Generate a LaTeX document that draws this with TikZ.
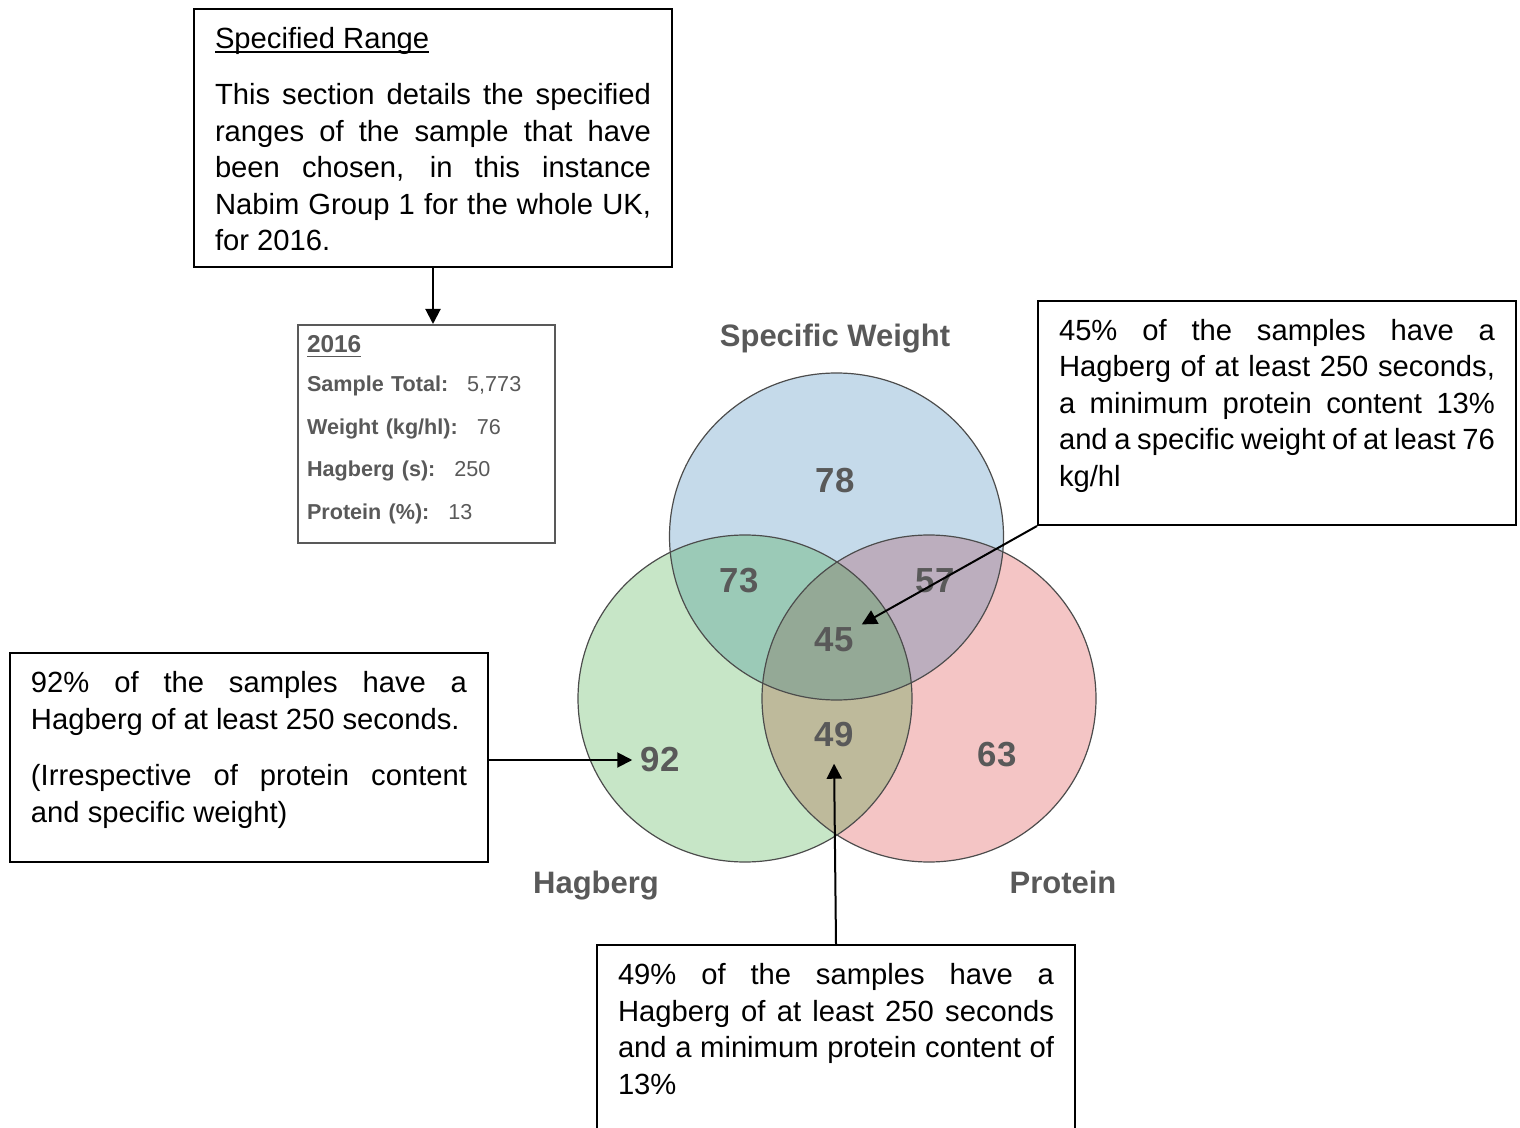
\documentclass[tikz,border=0pt]{standalone}
\usepackage{fontspec}
\setmainfont{Liberation Sans}
\usetikzlibrary{calc}
\usetikzlibrary{arrows.meta}

\definecolor{vennblue}{RGB}{23,107,171}
\definecolor{venngreen}{RGB}{31,155,31}
\definecolor{vennred}{RGB}{211,23,23}
\definecolor{venntext}{RGB}{89,89,89}

\newcommand{\ulword}[1]{\leavevmode\setbox0\hbox{#1}\rlap{\rule[-2.2pt]{\wd0}{0.8pt}}\box0}
\tolerance=9999
\hyphenpenalty=10000
\hbadness=10000

\begin{document}
\begin{tikzpicture}[x=0.5pt, y=-0.5pt,
  note/.style={draw, line width=1pt, anchor=north west, inner xsep=10.5pt, inner ysep=0pt, text width=218pt, align=justify, text height=19.75pt, font=\fontsize{14.6}{18.25}\selectfont},
  num/.style={text=venntext, font=\bfseries\fontsize{17.4}{20}\selectfont, inner sep=4pt},
  setname/.style={text=venntext, anchor=base, font=\bfseries\fontsize{15.5}{18}\selectfont},
  arr/.style={-{Triangle[length=7.5pt,width=7.5pt]}, line width=1pt},
  venn/.style={fill opacity=0.25},
  rim/.style={draw=black!70, line width=0.6pt}]
\useasboundingbox (0,0) rectangle (1520,1128);

\fill[vennred, venn] (929,698.5) ellipse [x radius=83.5pt, y radius=81.75pt];
\fill[vennblue, venn] (836.5,536.5) ellipse [x radius=83.5pt, y radius=81.75pt];
\fill[venngreen, venn] (745,698.5) ellipse [x radius=83.5pt, y radius=81.75pt];
\foreach \cx/\cy in {929/698.5, 836.5/536.5, 745/698.5} \draw[rim] (\cx,\cy) ellipse [x radius=83.5pt, y radius=81.75pt];

\foreach \v/\px/\py in {78/835/481, 73/739/581, 57/935/581, 45/834/640, 49/834/735, 92/660/760, 63/997/755} \node[num] (n\v) at (\px,\py) {\v};

\node[setname] (swlabel) at (835,347) {Specific Weight};
\node[setname] (haglabel) at (596,893) {Hagberg};
\node[setname] (protlabel) at (1063,893) {Protein};

\node[note, text depth=109.25pt] (rangenote) at (193,8) {\ulword{Specified Range}\par\vspace{10pt}This section details the specified\linebreak ranges of the sample that have\linebreak been chosen, in this instance\linebreak Nabim Group 1 for the whole UK,\linebreak for 2016.};

\node[draw=venntext, line width=1pt, anchor=north west, inner xsep=4.5pt, inner ysep=0pt, text width=119.5pt, align=left, text height=14pt, text depth=95pt, text=venntext, font=\fontsize{10.8}{21.3}\selectfont] (yearbox) at (297,324) {\ulword{\fontsize{12.2}{14}\selectfont\bfseries 2016}\\[-2pt] {\bfseries Sample Total:}\hspace{9.5pt}5,773\\ {\bfseries Weight (kg/hl):}\hspace{9.5pt}76\\ {\bfseries Hagberg (s):}\hspace{9.5pt}250\\ {\bfseries Protein (\%):}\hspace{9.5pt}13};

\node[note, text depth=84.75pt] (hagnote) at (9,652) {92\% of the samples have a\linebreak Hagberg of at least 250 seconds.\par\vspace{10pt}(Irrespective of protein content\linebreak and specific weight)};

\node[note, text depth=92.25pt] (allnote) at (1037,300) {45\% of the samples have a\linebreak Hagberg of at least 250 seconds,\linebreak a minimum protein content 13\%\linebreak and a specific weight of at least 76\linebreak kg/hl};

\node[note, text depth=78.25pt] (bothnote) at (596,944) {49\% of the samples have a\linebreak Hagberg of at least 250 seconds\linebreak and a minimum protein content of\linebreak 13\%};

\draw[arr] (rangenote.south) -- (rangenote.south |- yearbox.north);
\draw[arr] (hagnote.east |- n92) -- (n92.west);
\draw[arr, shorten >=4pt] (bothnote.north) -- (n49.south);
\draw[arr] (allnote.south west) -- (n45);
\end{tikzpicture}
\end{document}
